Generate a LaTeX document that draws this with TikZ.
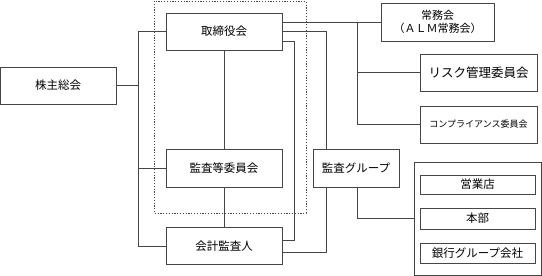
\documentclass[tikz,border=0pt]{standalone}
\usepackage{fontspec}
\setmainfont{Noto Sans CJK JP}
\usepackage{tikz}
\usetikzlibrary{calc}
\definecolor{colLine}{RGB}{70,70,70}

\begin{document}
\begin{tikzpicture}[
  x=1pt, y=-1pt,
  box/.style={rectangle, draw=colLine, line width=0.8pt, inner sep=0pt,
              minimum width=116pt, minimum height=37pt, align=center,
              font=\fontsize{11.5}{14}\selectfont},
  small/.style={box, minimum width=115pt, minimum height=20pt},
  conn/.style={draw=colLine, line width=0.8pt},
]
\useasboundingbox (0,0) rectangle (542,276);

% dashed frame round the board
\draw[colLine, line width=0.8pt, dash pattern=on 1.2pt off 1.6pt] (154,1) rectangle (306,213);

\node[box] (kabunushi) at (58,85.5) {株主総会};
\node[box] (torishimari) at (224,31.5) {取締役会};
\node[box, minimum height=38pt] (kansatou) at (224,168) {監査等委員会};
\node[box] (kaikei) at (224,246) {会計監査人};

\node[box, minimum width=113pt, minimum height=38pt, font=\fontsize{11}{13}\selectfont] (joumu) at (437.5,22) {常務会\\（ＡＬＭ常務会）};
\node[box, minimum width=117pt, font=\fontsize{12.5}{14}\selectfont] (risk) at (478.5,72.5) {リスク管理委員会};
\node[box, minimum width=117pt, font=\fontsize{9}{11}\selectfont] (comp) at (478.5,124.5) {コンプライアンス委員会};

\node[box, minimum width=86pt, minimum height=38pt] (kansag) at (356,168) {監査グループ};

\node[box, minimum width=127pt, minimum height=113pt] (group) at (477.5,218.5) {};
\node[small, minimum height=19pt] (eigyou) at (477.5,184.5) {営業店};
\node[small, minimum height=21pt] (honbu) at (477.5,218.5) {本部};
\node[small] (ginkou) at (477.5,253) {銀行グループ会社};

\coordinate (busL) at (138,0);
\coordinate (busR) at (357,0);
\coordinate (busA) at (326.5,0);
\coordinate (busB) at (294,0);

% shareholders to the three organs
\draw[conn] (kabunushi.east) -- (kabunushi.east -| busL);
\draw[conn] (torishimari.west) -| (busL |- kaikei.west) -- (kaikei.west);
\draw[conn] (kansatou.west) -- (kansatou.west -| busL);
\draw[conn] (torishimari.south) -- (kansatou.north);
\draw[conn] (kansatou.south) -- (kaikei.north);

% board to committees
\draw[conn] ([yshift=9.5pt]torishimari.east) -- (joumu.west);
\draw[conn] (busR |- joumu.west) |- (risk.west);
\draw[conn] (busR |- risk.west) |- (comp.west);

% audit lines
\draw[conn] (torishimari.east) -| (busA |- kansag.north);
\draw[conn] (busA |- kansag.south) |- ([yshift=-6pt]kaikei.east);
\draw[conn] ([yshift=-9.5pt]torishimari.east) -| ([yshift=6pt]kaikei.east -| busB) -- ([yshift=6pt]kaikei.east);
\draw[conn] (kansag.south -| busR) |- (group.west);
\end{tikzpicture}
\end{document}
